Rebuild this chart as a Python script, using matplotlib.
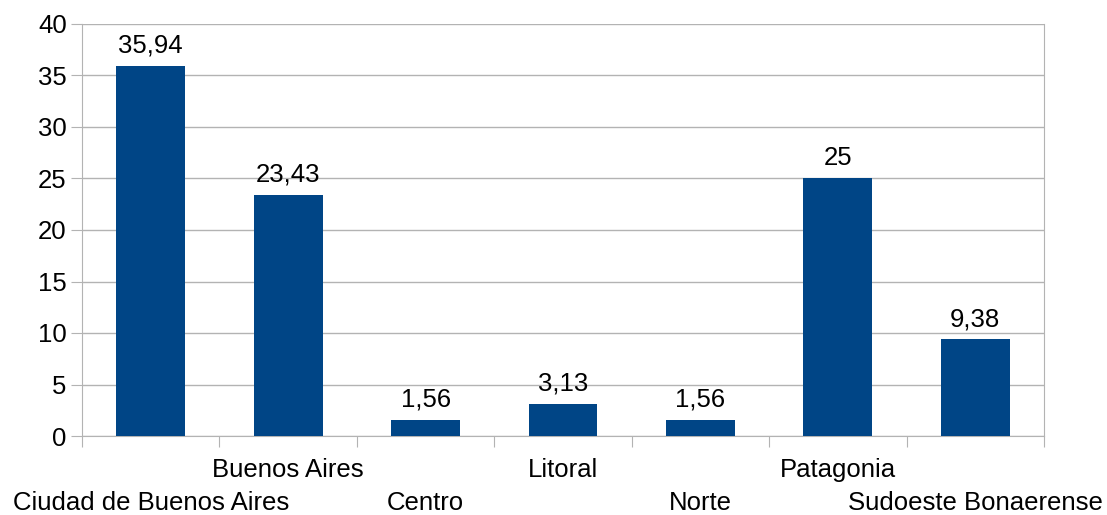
import matplotlib.pyplot as plt
import matplotlib.transforms as mtransforms
import numpy as np

regions = ["Ciudad de Buenos Aires", "Buenos Aires", "Centro", "Litoral",
           "Norte", "Patagonia", "Sudoeste Bonaerense"]
values = [35.94, 23.43, 1.56, 3.13, 1.56, 25, 9.38]
value_labels = ["35,94", "23,43", "1,56", "3,13", "1,56", "25", "9,38"]
yticks = [0, 5, 10, 15, 20, 25, 30, 35, 40]

plt.rcParams['font.family'] = ['Liberation Sans', 'DejaVu Sans']
grid_col = '#b3b3b3'
fs = 18.5

fig = plt.figure(figsize=(11.07, 5.15), dpi=100)
ax = fig.add_axes([82 / 1107, 79 / 515, 962 / 1107, 412 / 515])

x = np.arange(len(regions)) + 0.5
ax.bar(x, values, width=0.5, color='#004586', zorder=3)

for xi, v, lab in zip(x, values, value_labels):
    ax.annotate(lab, (xi, v), xytext=(0, 6), textcoords='offset points',
                ha='center', va='bottom', fontsize=fs, color='black')

ax.set_xlim(0, len(regions))
ax.set_ylim(0, 40)
ax.set_yticks(yticks)
ax.yaxis.grid(True, color=grid_col, linewidth=1, zorder=0)
ax.tick_params(axis='y', length=8, color=grid_col, labelsize=fs, pad=3)

# category boundaries as ticks, names drawn in two staggered rows
ax.set_xticks(np.arange(len(regions) + 1))
ax.set_xticklabels([])
ax.tick_params(axis='x', length=8, color=grid_col)
trans = mtransforms.blended_transform_factory(ax.transData, ax.transAxes)
for i, (xi, r) in enumerate(zip(x, regions)):
    ypix = 470 if i % 2 == 1 else 503
    ax.text(xi, -(ypix - 436) / 412, r, transform=trans, ha='center',
            va='center', fontsize=fs, color='black')

for s in ['left', 'right', 'bottom']:
    ax.spines[s].set_color(grid_col)
ax.spines['top'].set_visible(False)

fig.savefig("out.png", dpi=100)
